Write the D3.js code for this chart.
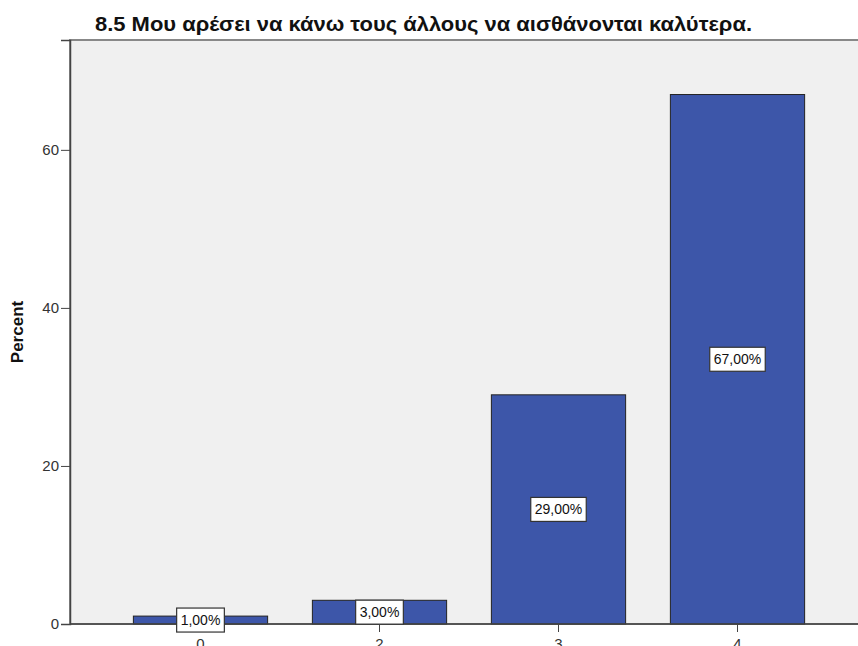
<!DOCTYPE html>
<html>
<head>
<meta charset="utf-8">
<script src="https://cdn.jsdelivr.net/npm/d3@7"></script>
<style>
  body { margin: 0; background: #fff; }
  svg { display: block; font-family: "Liberation Sans", Arial, sans-serif; }
</style>
</head>
<body>
<div id="chart"></div>
<script>
// chart data
const categories = ["0", "2", "3", "4"];
const percents = [1, 3, 29, 67];
const labels = ["1,00%", "3,00%", "29,00%", "67,00%"];
const yTicks = [0, 20, 40, 60];
const title = "8.5 Μου αρέσει να κάνω τους άλλους να αισθάνονται καλύτερα.";

const width = 858;
const height = 646;
const margin = {left: 70, right: 0, top: 40, bottom: 22};

const svg = d3.select("#chart")
  .append("svg")
  .attr("width", width)
  .attr("height", height);

// plot background
svg.append("rect")
  .attr("x", margin.left)
  .attr("y", margin.top)
  .attr("width", width - margin.left + 5)
  .attr("height", height - margin.top - margin.bottom)
  .attr("fill", "#f0f0f0")
  .attr("stroke", "#888")
  .attr("stroke-width", 2);

const yScale = d3.scaleLinear()
  .domain([0, 73.9])
  .range([height - margin.bottom, margin.top]);

const xScale = d3.scaleBand()
  .domain(categories)
  .range([111, 827])
  .paddingInner(0.25)
  .paddingOuter(0.125);

// bars
svg.selectAll(".bar")
  .data(percents)
  .enter()
  .append("rect")
    .attr("class", "bar")
    .attr("x", (d, i) => xScale(categories[i]))
    .attr("y", d => yScale(d))
    .attr("width", xScale.bandwidth())
    .attr("height", d => yScale(0) - yScale(d))
    .attr("fill", "#3d56a9")
    .attr("stroke", "#222")
    .attr("stroke-width", 1);

// y axis
const yAxis = svg.append("g")
  .attr("transform", `translate(${margin.left},0)`)
  .call(d3.axisLeft(yScale).tickValues(yTicks).tickSize(9).tickPadding(2));
yAxis.select(".domain").attr("stroke", "#444").attr("stroke-width", 1.5);
yAxis.selectAll(".tick line").attr("stroke", "#444");
yAxis.selectAll("text").attr("font-size", 15).attr("fill", "#333")
  .attr("font-family", "Liberation Sans, Arial, sans-serif");

// x axis
const xAxis = svg.append("g")
  .attr("transform", `translate(0,${yScale(0)})`)
  .call(d3.axisBottom(xScale).tickSize(8).tickPadding(6));
xAxis.select(".domain").attr("stroke", "#444").attr("stroke-width", 1.5)
  .attr("d", `M${margin.left},0H${width}`);
xAxis.selectAll(".tick line").attr("stroke", "#444");
xAxis.selectAll("text").attr("font-size", 15).attr("fill", "#333")
  .attr("font-family", "Liberation Sans, Arial, sans-serif");

// value labels
const lab = svg.selectAll(".lab")
  .data(percents)
  .enter()
  .append("g")
    .attr("class", "lab")
    .attr("transform", (d, i) => `translate(${xScale(categories[i]) + xScale.bandwidth() / 2},${(yScale(0) + yScale(d)) / 2})`);

lab.append("text")
  .attr("text-anchor", "middle")
  .attr("dy", "0.36em")
  .attr("font-size", 14)
  .attr("fill", "#111")
  .text((d, i) => labels[i]);

lab.each(function() {
  const g = d3.select(this);
  const bb = g.select("text").node().getBBox();
  g.insert("rect", "text")
    .attr("x", bb.x - 4)
    .attr("y", -12)
    .attr("width", bb.width + 8)
    .attr("height", 24)
    .attr("fill", "#fff")
    .attr("stroke", "#333")
    .attr("stroke-width", 1.2);
});

// y axis title
svg.append("text")
  .attr("transform", `translate(23,${(margin.top + yScale(0)) / 2}) rotate(-90)`)
  .attr("text-anchor", "middle")
  .attr("font-size", 17)
  .attr("font-weight", "bold")
  .attr("fill", "#111")
  .text("Percent");

// title
svg.append("text")
  .attr("x", 95)
  .attr("y", 31)
  .attr("font-size", 20)
  .attr("font-weight", "bold")
  .attr("fill", "#111")
  .attr("textLength", 657)
  .attr("lengthAdjust", "spacingAndGlyphs")
  .text(title);
</script>
</body>
</html>
